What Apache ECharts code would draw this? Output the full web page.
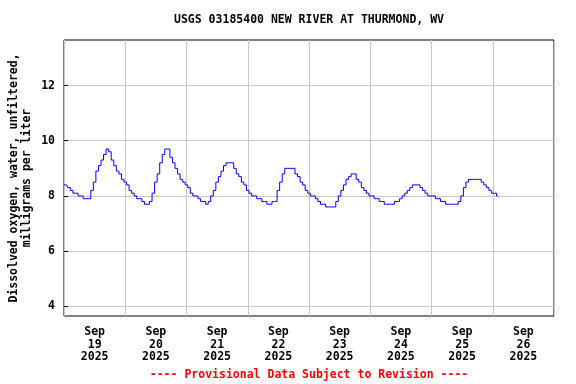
<!DOCTYPE html>
<html>
<head>
<meta charset="utf-8">
<script src="https://cdn.jsdelivr.net/npm/echarts@6/dist/echarts.min.js"></script>
<style>html,body{margin:0;padding:0;background:#fff;}#c{width:576px;height:384px;}</style>
</head>
<body>
<div id="c"></div>
<script>
// Hours since 2025-09-19 00:00 (hourly readings), dissolved oxygen in mg/L
var hours = [];
for (var i = 0; i <= 170; i++) hours.push(i);
var day1 = [8.4,8.4,8.3,8.2,8.1,8.1,8.0,8.0,7.9,7.9,7.9,8.2,8.5,8.9,9.1,9.3,9.5,9.7,9.6,9.3,9.1,8.9,8.8,8.6];
var day2 = [8.5,8.4,8.2,8.1,8.0,7.9,7.9,7.8,7.7,7.7,7.8,8.1,8.5,8.8,9.2,9.5,9.7,9.7,9.4,9.2,9.0,8.8,8.6,8.5];
var day3 = [8.4,8.3,8.1,8.0,8.0,7.9,7.8,7.8,7.7,7.8,8.0,8.2,8.5,8.7,8.9,9.1,9.2,9.2,9.2,9.0,8.8,8.7,8.5,8.4];
var day4 = [8.2,8.1,8.0,8.0,7.9,7.9,7.8,7.8,7.7,7.7,7.8,7.8,8.2,8.5,8.8,9.0,9.0,9.0,9.0,8.8,8.7,8.5,8.4,8.2];
var day5 = [8.1,8.0,8.0,7.9,7.8,7.7,7.7,7.6,7.6,7.6,7.6,7.8,8.0,8.2,8.4,8.6,8.7,8.8,8.8,8.6,8.5,8.3,8.2,8.1];
var day6 = [8.0,8.0,7.9,7.9,7.8,7.8,7.7,7.7,7.7,7.7,7.8,7.8,7.9,8.0,8.1,8.2,8.3,8.4,8.4,8.4,8.3,8.2,8.1,8.0];
var day7 = [8.0,8.0,7.9,7.9,7.8,7.8,7.7,7.7,7.7,7.7,7.7,7.8,8.0,8.3,8.5,8.6,8.6,8.6,8.6,8.6,8.5,8.4,8.3,8.2];
var day8 = [8.1,8.1,8.0];
var values = [].concat(day1, day2, day3, day4, day5, day6, day7, day8);

var tickDays = ['19','20','21','22','23','24','25','26'];
var tickLabels = tickDays.map(function(d){ return 'Sep\n' + d + '\n2025'; });
var yTicks = [4, 6, 8, 10, 12];

var data = hours.map(function(h, i){ return [h, values[i]]; });
var FONT = '"DejaVu Sans Mono", monospace';

var chart = echarts.init(document.getElementById('c'), null, {renderer: 'canvas'});
chart.setOption({
  backgroundColor: '#ffffff',
  animation: false,
  grid: {left: 64, right: 22, top: 40, bottom: 68, show: true, borderColor: '#000', borderWidth: 1,
    backgroundColor: 'transparent', containLabel: false, outerBoundsMode: 'none'},
  xAxis: {
    type: 'value', min: 0, max: 192, interval: 24,
    axisLine: {show: false},
    axisTick: {show: false},
    splitLine: {show: true, lineStyle: {color: '#c8c8c8', width: 1}},
    axisLabel: {
      customValues: tickDays.map(function(d, i){ return 12 + 24 * i; }),
      formatter: function(v){ return tickLabels[Math.round((v - 12) / 24)] || ''; },
      fontFamily: FONT, fontSize: 11.5, fontWeight: 'bold', color: '#000',
      lineHeight: 12.5, margin: 10
    }
  },
  yAxis: {
    type: 'value', min: 3.65, max: 13.65,
    name: 'Dissolved oxygen, water, unfiltered,\nmilligrams per liter',
    nameLocation: 'middle', nameRotate: 90, nameGap: 30, nameMoveOverlap: false,
    nameTextStyle: {fontFamily: FONT, fontSize: 11.5, fontWeight: 'bold', color: '#000', lineHeight: 13},
    axisLine: {show: false},
    axisTick: {show: true, inside: true, length: 4, customValues: yTicks, lineStyle: {color: '#000'}},
    splitLine: {show: true, lineStyle: {color: '#c8c8c8', width: 1}},
    axisLabel: {
      customValues: yTicks,
      fontFamily: FONT, fontSize: 11.5, fontWeight: 'bold', color: '#000', margin: 9
    }
  },
  series: [{
    type: 'line', data: data, step: 'middle', showSymbol: false,
    lineStyle: {color: '#0000ff', width: 1}
  }],
  graphic: [{
    type: 'text', x: 309, y: 20,
    style: {text: 'USGS 03185400 NEW RIVER AT THURMOND, WV', fill: '#000',
      font: 'bold 11.5px ' + FONT, textAlign: 'center', textVerticalAlign: 'middle'}
  }, {
    type: 'text', x: 309, y: 375,
    style: {text: '---- Provisional Data Subject to Revision ----', fill: '#ff0000',
      font: 'bold 11.5px ' + FONT, textAlign: 'center', textVerticalAlign: 'middle'}
  }]
});
</script>
</body>
</html>
